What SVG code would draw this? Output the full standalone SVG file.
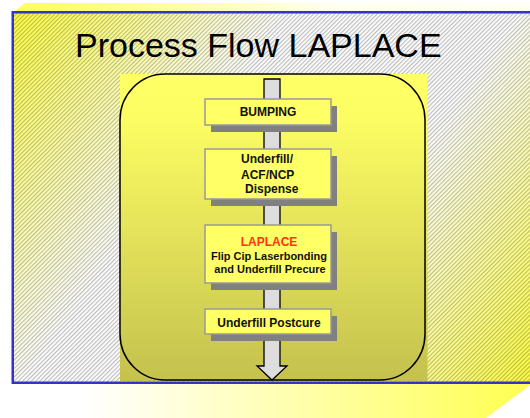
<svg xmlns="http://www.w3.org/2000/svg" width="530" height="418" viewBox="0 0 530 418">
  <defs>
    <linearGradient id="topStrip" gradientUnits="userSpaceOnUse" x1="12" y1="0" x2="530" y2="0">
      <stop offset="0" stop-color="#ffff55"/>
      <stop offset="0.6" stop-color="#ffffea"/>
      <stop offset="1" stop-color="#fffff4"/>
    </linearGradient>
    <linearGradient id="botStrip" gradientUnits="userSpaceOnUse" x1="10" y1="0" x2="520" y2="0">
      <stop offset="0" stop-color="#ffffff"/>
      <stop offset="0.15" stop-color="#ffffff"/>
      <stop offset="1" stop-color="#ffff55"/>
    </linearGradient>
    <linearGradient id="panelGrad" gradientUnits="userSpaceOnUse" x1="12" y1="13" x2="530" y2="382">
      <stop offset="0" stop-color="#ffff44"/>
      <stop offset="0.35" stop-color="#ffffff"/>
      <stop offset="0.65" stop-color="#ffffff"/>
      <stop offset="1" stop-color="#ffff44"/>
    </linearGradient>
    <pattern id="hatch" width="3" height="3" patternUnits="userSpaceOnUse" patternTransform="rotate(-45)">
      <rect x="0" y="0" width="3" height="1.2" fill="#000000" fill-opacity="0.26"/>
    </pattern>
    <linearGradient id="boardGrad" x1="0" y1="0" x2="0" y2="1">
      <stop offset="0" stop-color="#ffff66"/>
      <stop offset="0.15" stop-color="#fcfc63"/>
      <stop offset="1" stop-color="#c4c14e"/>
    </linearGradient>
  </defs>
  <style>
    .box { fill: #ffff66; stroke: #999999; stroke-width: 1.5; }
    .shadow { fill: #808080; }
    .lbl { font-family: "Liberation Sans", Arial, sans-serif; font-weight: bold; font-size: 12px; fill: #111111; }
    .sm { font-size: 11px; }
  </style>

  <rect x="0" y="0" width="530" height="418" fill="#ffffff"/>
  <!-- back strips -->
  <polygon points="25,3 530,3 530,13 12,13" fill="url(#topStrip)"/>
  <polygon points="10,383 530,383 530,385 486,418 10,418" fill="url(#botStrip)"/>

  <!-- main panel -->
  <rect x="12.75" y="12.25" width="530" height="370.5" fill="url(#panelGrad)"/>
  <rect x="12.75" y="12.25" width="530" height="370.5" fill="url(#hatch)"/>
  <rect x="12.75" y="12.25" width="530" height="370.5" fill="none" stroke="#3333cc" stroke-width="2.5"/>

  <text x="75" y="57" font-family="Liberation Sans, Arial, sans-serif" font-size="34" fill="#000000">Process Flow LAPLACE</text>

  <!-- board -->
  <rect x="120" y="74" width="307.5" height="307" fill="url(#boardGrad)"/>
  <rect x="120" y="74" width="305" height="306" rx="45" ry="46" fill="none" stroke="#000000" stroke-width="1.5"/>

  <g id="connectors">
    <polygon points="264,79 280,79 280,366 287,366 272,380 257,366 264,366" fill="#dddddd" stroke="#000000" stroke-width="1.3" stroke-linejoin="miter"/>
  </g>

  <g id="bumping">
    <rect class="shadow" x="211" y="106" width="126" height="26"/>
    <rect class="box" x="205" y="99" width="126" height="26"/>
    <text class="lbl" x="268" y="116" text-anchor="middle">BUMPING</text>
  </g>

  <g id="underfill">
    <rect class="shadow" x="211" y="156" width="126" height="50"/>
    <rect class="box" x="205" y="149" width="126" height="50"/>
    <text class="lbl" x="241" y="163">Underfill/</text>
    <text class="lbl" x="241" y="179">ACF/NCP</text>
    <text class="lbl" x="245" y="193">Dispense</text>
  </g>

  <g id="laplace">
    <rect class="shadow" x="211" y="232" width="126" height="58"/>
    <rect class="box" x="205" y="225" width="126" height="58"/>
    <text class="lbl" x="269" y="246" text-anchor="middle" style="fill:#ff3311">LAPLACE</text>
    <text class="lbl sm" x="269" y="259.5" text-anchor="middle">Flip Cip Laserbonding</text>
    <text class="lbl sm" x="270" y="273" text-anchor="middle">and Underfill Precure</text>
  </g>

  <g id="postcure">
    <rect class="shadow" x="211" y="316" width="126" height="25"/>
    <rect class="box" x="205" y="309" width="126" height="25"/>
    <text class="lbl" x="269" y="327" text-anchor="middle">Underfill Postcure</text>
  </g>
</svg>
